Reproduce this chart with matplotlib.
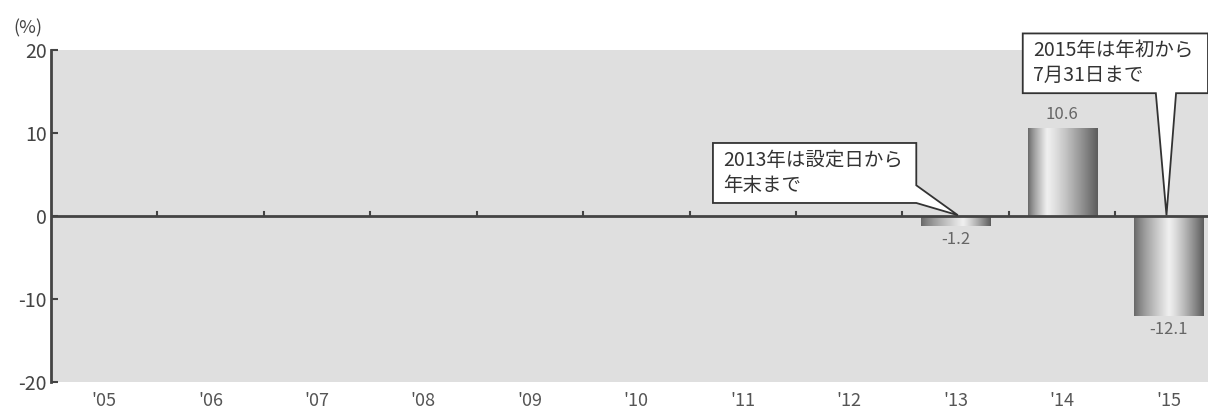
"""投資信託の年間騰落率を棒グラフで描く（'05〜'15）。"""

import matplotlib

matplotlib.use("Agg")

import matplotlib.pyplot as plt  # noqa: E402
import numpy as np  # noqa: E402
from matplotlib.patches import Polygon  # noqa: E402

plt.rcParams["font.family"] = ["Noto Sans CJK JP", "DejaVu Sans"]
plt.rcParams["axes.unicode_minus"] = False

years = ["'05", "'06", "'07", "'08", "'09", "'10", "'11", "'12", "'13", "'14", "'15"]
# 設定前の年は値なし
returns = [None, None, None, None, None, None, None, None, -1.2, 10.6, -12.1]
value_labels = ["", "", "", "", "", "", "", "", "-1.2", "10.6", "-12.1"]

note_2013 = "2013年は設定日から\n年末まで"
note_2015 = "2015年は年初から\n7月31日まで"

BG_COLOR = "#dfdfdf"
AXIS_COLOR = "#444444"
TEXT_COLOR = "#555555"
BAR_WIDTH = 0.65

# 棒ごとのハイライト位置（円柱風のグラデーション）
highlight = {8: 0.6, 9: 0.27, 10: 0.5}


def gradient_row(h, lo_left, hi, lo_right, n=200):
    t = np.linspace(0, 1, n)
    left = lo_left + (hi - lo_left) * np.clip(t / h, 0, 1) ** 0.8
    right = hi - (hi - lo_right) * np.clip((t - h) / (1 - h), 0, 1) ** 1.2
    return np.where(t <= h, left, right)


fig = plt.figure(figsize=(12.08, 4.17), dpi=100)
ax = fig.add_axes([0.042, 0.084, 0.958, 0.796])
ax.set_facecolor(BG_COLOR)

x = np.arange(len(years))
heights = [0 if v is None else v for v in returns]
bars = ax.bar(x, heights, width=BAR_WIDTH, color="none", edgecolor="none", zorder=3)

for i, bar in enumerate(bars):
    if returns[i] is None:
        continue
    x0 = bar.get_x()
    x1 = x0 + bar.get_width()
    y0 = min(0, returns[i])
    y1 = max(0, returns[i])
    row = gradient_row(highlight.get(i, 0.5), 0.40, 0.94, 0.36)
    img = ax.imshow(
        row[np.newaxis, :],
        extent=(x0, x1, y0, y1),
        aspect="auto",
        cmap="gray",
        vmin=0,
        vmax=1,
        zorder=3,
        interpolation="bicubic",
    )
    img.set_clip_path(bar)

    # 値ラベル
    if returns[i] >= 0:
        ax.text(i, returns[i] + 0.6, value_labels[i], ha="center", va="bottom",
                fontsize=12, color="#666666", zorder=5)
    else:
        ax.text(i, returns[i] - 0.6, value_labels[i], ha="center", va="top",
                fontsize=12, color="#666666", zorder=5)

ax.set_xlim(-0.5, 10.37)
ax.set_ylim(-20, 20)

# ゼロ線と年の区切り目盛り
ax.axhline(0, color=AXIS_COLOR, lw=2, zorder=4)
for b in x[:-1] + 0.5:
    ax.plot([b, b], [0, 0.5], color=AXIS_COLOR, lw=1.5, zorder=4)

for side in ["top", "right", "bottom"]:
    ax.spines[side].set_visible(False)
ax.spines["left"].set_color(AXIS_COLOR)
ax.spines["left"].set_linewidth(2)

ax.set_yticks([20, 10, 0, -10, -20])
ax.tick_params(axis="y", direction="in", length=5, width=1.5, color=AXIS_COLOR,
               labelsize=14, labelcolor="#444444", pad=3)
ax.set_xticks(x)
ax.set_xticklabels(years)
ax.tick_params(axis="x", length=0, labelsize=13, labelcolor=TEXT_COLOR, pad=7)

fig.text(0.023, 0.933, "(%)", ha="center", va="center", fontsize=13, color="#444444")


def callout(box, base, tip, text):
    """吹き出し（矩形＋くさび形の指し示し）を描く。"""
    bx0, bx1, by0, by1 = box
    # base: 矩形の辺上の 2 点（時計回り順に挿入）
    if base[0][1] == by0 and base[1][1] == by0:
        pts = [(bx0, by1), (bx1, by1), (bx1, by0), base[1], tip, base[0], (bx0, by0)]
    else:
        pts = [(bx0, by1), (bx1, by1), base[0], tip, base[1], (bx1, by0), (bx0, by0)]
    poly = Polygon(pts, closed=True, facecolor="white", edgecolor="#333333",
                   lw=1.3, zorder=6, clip_on=False, joinstyle="miter")
    ax.add_patch(poly)
    ax.text(bx0 + 0.1, (by0 + by1) / 2, text, ha="left", va="center", fontsize=14,
            color="#333333", linespacing=1.25, zorder=7, clip_on=False)


callout((5.72, 7.63, 1.57, 8.8), [(7.63, 3.7), (7.63, 1.57)], (8.02, 0.1), note_2013)
callout((8.63, 10.37, 14.8, 22.0), [(9.88, 14.8), (10.07, 14.8)], (9.98, 0.1), note_2015)

fig.savefig("out.png", dpi=100, facecolor="white")
